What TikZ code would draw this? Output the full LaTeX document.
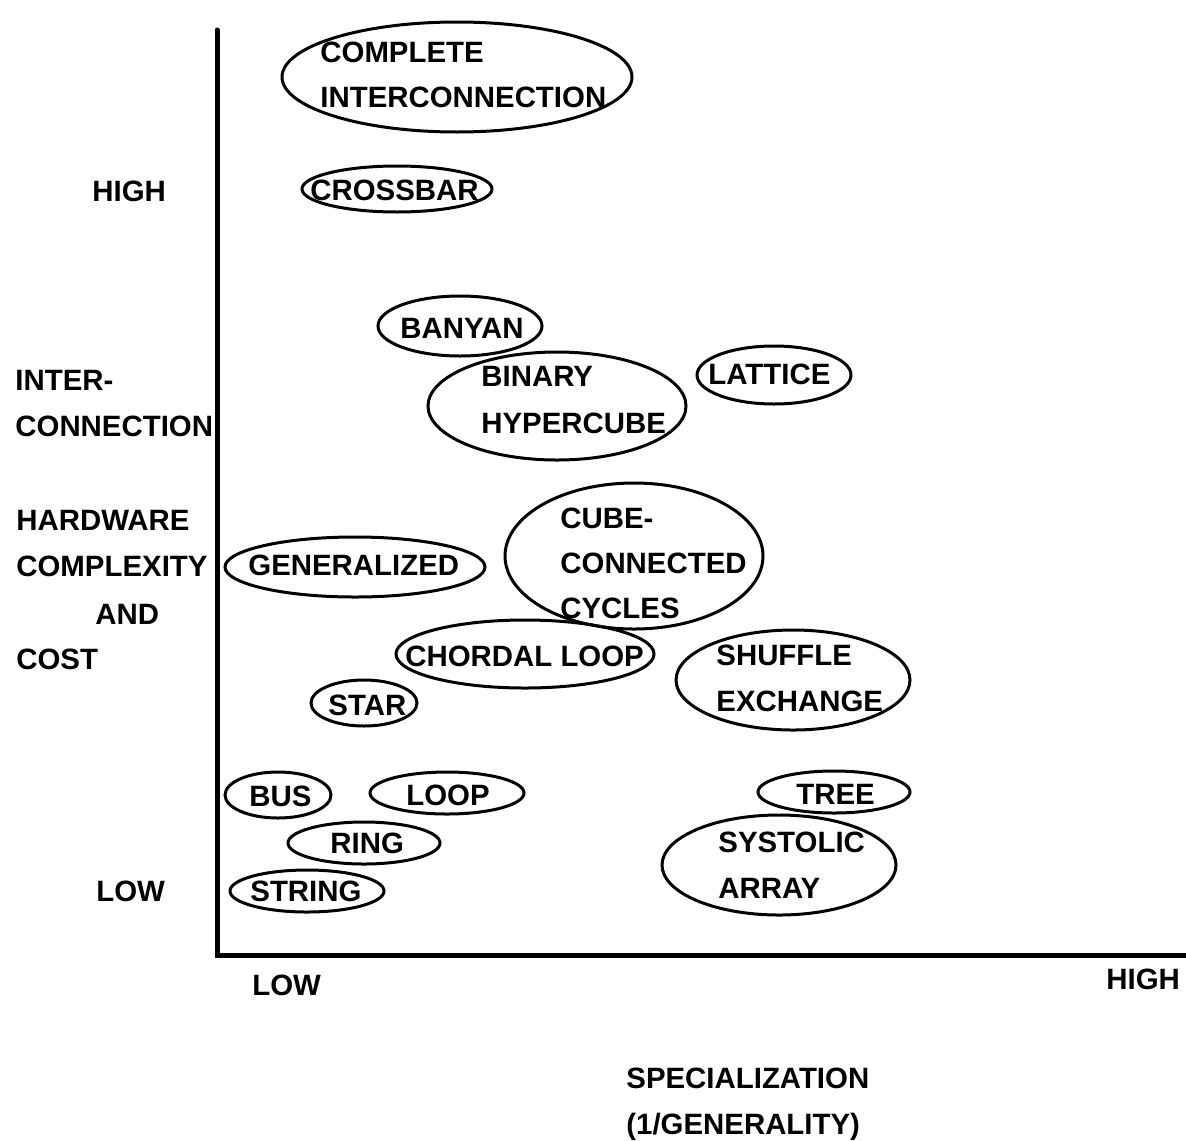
\documentclass[tikz,border=0pt]{standalone}
\usepackage{fontspec}
\setmainfont{Liberation Sans}
\usetikzlibrary{shapes.geometric}
% one unit = one pixel of the 1186 x 1140 sheet, y running downwards
\newcommand\netblob[5]{%
  \node[netshape, minimum width=#4pt, minimum height=#5pt] (#1) at (#2,#3) {};}
\begin{document}
\begin{tikzpicture}[x=0.5pt, y=-0.5pt,
  netshape/.style={ellipse, draw, line width=1.5pt, inner sep=0pt},
  lbl/.style={anchor=base west, inner sep=0pt, font=\bfseries\fontsize{14.7}{16}\selectfont},
  axisline/.style={line width=2.5pt, line cap=round}]
\useasboundingbox (0,0) rectangle (1186,1140);

% axes
\coordinate (top) at (217,30);
\coordinate (origin) at (217,955);
\coordinate (right) at (1186,955);
\draw[axisline] (top) -- (origin) -- (right);

% vertical axis labels
\node[lbl] (yhigh) at (92,201) {HIGH};
\node[lbl] (ylab1) at (15,390) {INTER-};
\node[lbl] (ylab2) at (15,436) {CONNECTION};
\node[lbl] (ylab3) at (16,530) {HARDWARE};
\node[lbl] (ylab4) at (16,576) {COMPLEXITY};
\node[lbl] (ylab5) at (95,624) {AND};
\node[lbl] (ylab6) at (16,669) {COST};
\node[lbl] (ylow) at (96,901) {LOW};

% horizontal axis labels
\node[lbl] (xlow) at (252,995) {LOW};
\node[lbl] (xhigh) at (1106,989) {HIGH};
\node[lbl] (xlab1) at (626,1088) {SPECIALIZATION};
\node[lbl] (xlab2) at (626,1134) {(1/GENERALITY)};

% network families
\netblob{complete}{457}{77}{175}{55}
\node[lbl] (tcomplete1) at (320,62) {COMPLETE};
\node[lbl] (tcomplete2) at (320,107) {INTERCONNECTION};

\netblob{crossbar}{397}{189}{95}{23}
\node[lbl] (tcrossbar) at (310,200) {CROSSBAR};

\netblob{banyan}{460}{326}{82}{30}
\node[lbl] (tbanyan) at (400,338) {BANYAN};

\netblob{hypercube}{557}{406}{129}{54}
\node[lbl] (thypercube1) at (481,386) {BINARY};
\node[lbl] (thypercube2) at (481,433) {HYPERCUBE};

\netblob{lattice}{774}{375}{77}{29}
\node[lbl] (tlattice) at (708,384) {LATTICE};

\netblob{generalized}{355}{567}{130}{30}
\node[lbl] (tgeneralized) at (248,575) {GENERALIZED};

\netblob{ccc}{634}{556}{129}{73}
\node[lbl] (tccc1) at (560,528) {CUBE-};
\node[lbl] (tccc2) at (560,573) {CONNECTED};
\node[lbl] (tccc3) at (560,618) {CYCLES};

\netblob{chordal}{525}{654}{129}{34}
\node[lbl] (tchordal) at (405,666) {CHORDAL LOOP};

\netblob{shuffle}{793}{680}{117}{50}
\node[lbl] (tshuffle1) at (716,665) {SHUFFLE};
\node[lbl] (tshuffle2) at (716,711) {EXCHANGE};

\netblob{star}{364}{703}{53}{23}
\node[lbl] (tstar) at (328,715) {STAR};

\netblob{bus}{278}{795}{53}{23}
\node[lbl] (tbus) at (249,806) {BUS};

\netblob{loop}{447}{793}{77}{21}
\node[lbl] (tloop) at (406,805) {LOOP};

\netblob{tree}{834}{792}{76}{21}
\node[lbl] (ttree) at (796,804) {TREE};

\netblob{ring}{364}{843}{76}{21}
\node[lbl] (tring) at (330,853) {RING};

\netblob{systolic}{779}{865}{117}{50}
\node[lbl] (tsystolic1) at (718,852) {SYSTOLIC};
\node[lbl] (tsystolic2) at (718,898) {ARRAY};

\netblob{string}{307}{891}{77}{21}
\node[lbl] (tstring) at (250,901) {STRING};
\end{tikzpicture}
\end{document}
